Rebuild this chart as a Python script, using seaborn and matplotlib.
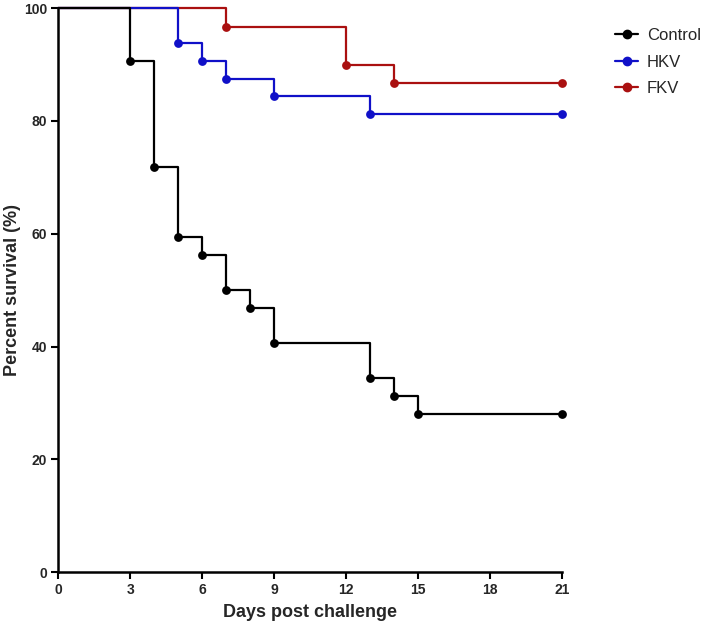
import matplotlib
matplotlib.use("Agg")
import matplotlib.pyplot as plt
import seaborn as sns
import pandas as pd

# Kaplan-Meier steps (day, percent survival)
control_days = [0, 3, 4, 5, 6, 7, 8, 9, 13, 14, 15, 21]
control_surv = [100, 90.625, 71.875, 59.375, 56.25, 50.0, 46.875, 40.625, 34.375, 31.25, 28.125, 28.125]

hkv_days = [0, 5, 6, 7, 9, 13, 21]
hkv_surv = [100, 93.75, 90.625, 87.5, 84.375, 81.25, 81.25]

fkv_days = [0, 7, 12, 14, 21]
fkv_surv = [100, 96.67, 90.0, 86.67, 86.67]

groups = ["Control", "HKV", "FKV"]
colors = {"Control": "#000000", "HKV": "#1010c8", "FKV": "#aa1010"}

frames = []
for name, d, s in [("Control", control_days, control_surv),
                   ("HKV", hkv_days, hkv_surv),
                   ("FKV", fkv_days, fkv_surv)]:
    frames.append(pd.DataFrame({"day": d, "surv": s, "group": name}))
df = pd.concat(frames, ignore_index=True)

sns.set_style("ticks")
plt.rcParams["font.family"] = ["Liberation Sans", "DejaVu Sans"]

fig = plt.figure(figsize=(7.09, 6.26), dpi=100)
ax = fig.add_axes([0.082, 0.086, 0.711, 0.901])

# draw FKV first so Control ends up on top, like the original
for name in ["FKV", "HKV", "Control"]:
    sub = df[df["group"] == name]
    sns.lineplot(data=sub, x="day", y="surv", ax=ax, color=colors[name],
                 drawstyle="steps-post", linewidth=1.6, estimator=None,
                 legend=False)
    pts = sub[sub["day"] > 0]
    sns.scatterplot(data=pts, x="day", y="surv", ax=ax, color=colors[name],
                    s=40, edgecolor=colors[name], linewidth=0, legend=False, zorder=5)

ax.set_xlim(0, 21)
ax.set_ylim(0, 100)
ax.set_xticks(range(0, 22, 3))
ax.set_yticks([0, 20, 40, 60, 80, 100])
for art in ax.collections + ax.lines:
    art.set_clip_on(False)

for lab in ax.get_xticklabels() + ax.get_yticklabels():
    lab.set_fontweight("bold")
    lab.set_fontsize(10)
ax.tick_params(axis="both", direction="out", length=5, width=1.5, color="black", pad=3)

ax.set_xlabel("Days post challenge", fontsize=13, fontweight="bold", labelpad=5)
ax.set_ylabel("Percent survival (%)", fontsize=13, fontweight="bold")
ax.yaxis.set_label_coords(-0.073, 0.5)

sns.despine(ax=ax)
for sp in ["left", "bottom"]:
    ax.spines[sp].set_linewidth(1.8)
    ax.spines[sp].set_color("black")

handles = [plt.Line2D([0], [0], color=colors[g], marker="o", markersize=6, linewidth=1.6)
           for g in groups]
fig.legend(handles, groups, loc="upper left", bbox_to_anchor=(0.858, 0.966),
           frameon=False, handlelength=1.4, handletextpad=0.5, labelspacing=0.7,
           borderaxespad=0, prop={"size": 12})

fig.savefig("out.png", dpi=100)
